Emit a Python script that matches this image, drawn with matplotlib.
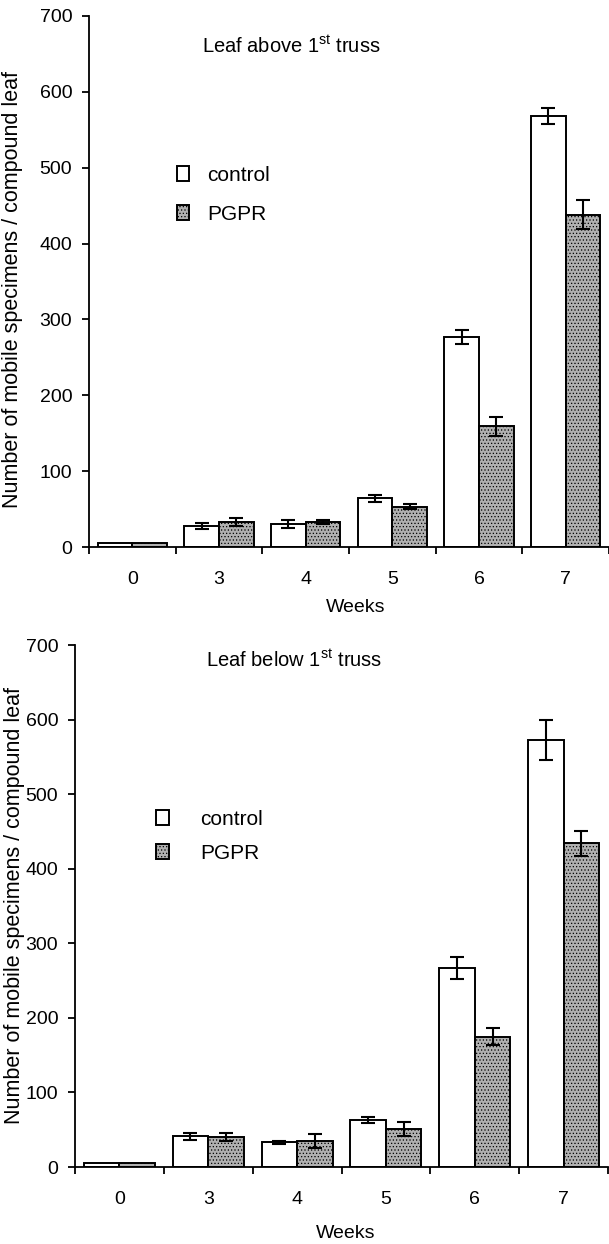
import matplotlib
matplotlib.use("Agg")
import matplotlib.pyplot as plt
import numpy as np

plt.rcParams['font.family'] = ['Liberation Sans', 'DejaVu Sans']
plt.rcParams['mathtext.fontset'] = 'custom'
plt.rcParams['mathtext.rm'] = 'Liberation Sans'
plt.rcParams['hatch.linewidth'] = 0.5

# donnees (pas de barre d'erreur visible a la semaine 0)
weeks = ['0', '3', '4', '5', '6', '7']

above_control = [5, 28, 30, 64, 277, 568]
above_control_err = [np.nan, 4, 5, 4.5, 9, 11]
above_pgpr = [5, 33, 33, 53, 159, 438]
above_pgpr_err = [np.nan, 5, 3, 3.5, 13, 19]

below_control = [5, 41, 33, 63, 267, 573]
below_control_err = [np.nan, 5, 1.5, 4.5, 15, 27]
below_pgpr = [5, 40, 35, 51, 175, 434]
below_pgpr_err = [np.nan, 5, 9, 9.5, 11, 17]

W, H = 609, 1244
fig = plt.figure(figsize=(W / 100, H / 100), dpi=100)


def px_axes(left, right, top, bottom):
    return fig.add_axes([left / W, 1 - bottom / H, (right - left) / W, (bottom - top) / H])


def draw_panel(ax, ctrl, ctrl_err, pg, pg_err, title, xmax, title_pos, leg_pos, textpad,
               spacing, ylab_pos, xlab_pos):
    x = np.arange(len(weeks))
    w = 0.4
    ek = dict(ecolor='black', elinewidth=1.5, capsize=5, capthick=1.5)
    ax.bar(x - w / 2, ctrl, w, yerr=ctrl_err, color='white', edgecolor='black',
           linewidth=1.4, label='control', error_kw=ek, zorder=2)
    ax.bar(x + w / 2, pg, w, yerr=pg_err, color='#b0b0b0', edgecolor='black',
           linewidth=1.4, hatch='.....', label='PGPR', error_kw=ek, zorder=2)

    ax.set_xlim(-0.5, xmax)
    ax.set_ylim(0, 700)
    ax.set_yticks(np.arange(0, 701, 100))
    ax.set_xticks(np.arange(-0.5, 6.0, 1.0))
    ax.set_xticklabels([])
    ax.set_xticks(x, minor=True)
    ax.set_xticklabels(weeks, minor=True)
    ax.tick_params(axis='x', which='major', direction='out', length=5, width=1.3)
    ax.tick_params(axis='x', which='minor', length=0, pad=17, labelsize=14)
    ax.tick_params(axis='y', direction='out', length=5, width=1.3, pad=7, labelsize=14)

    for s in ['top', 'right']:
        ax.spines[s].set_visible(False)
    for s in ['left', 'bottom']:
        ax.spines[s].set_linewidth(1.3)

    ax.set_ylabel('Number of mobile specimens / compound leaf', fontsize=15.5)
    ax.yaxis.set_label_coords(*ylab_pos)
    ax.set_xlabel('Weeks', fontsize=14)
    ax.xaxis.set_label_coords(*xlab_pos)

    ax.text(title_pos[0], title_pos[1], title, transform=ax.transAxes,
            fontsize=14.5, ha='left', va='center')

    ax.legend(loc='center left', bbox_to_anchor=leg_pos, frameon=False, fontsize=15,
              handlelength=0.6, handleheight=0.7, handletextpad=textpad,
              labelspacing=spacing, borderpad=0, borderaxespad=0)


ax1 = px_axes(89, 609, 16, 547)
draw_panel(ax1, above_control, above_control_err, above_pgpr, above_pgpr_err,
           r'Leaf above 1$^{\mathrm{st}}$ truss', 5.37, (0.217, 0.943),
           (0.169, 0.663), 0.85, 0.95, (-0.127, 0.485), (0.512, -0.098))

ax2 = px_axes(75, 608, 645, 1167)
draw_panel(ax2, below_control, below_control_err, below_pgpr, below_pgpr_err,
           r'Leaf below 1$^{\mathrm{st}}$ truss', 5.5, (0.246, 0.971),
           (0.152, 0.634), 1.5, 0.72, (-0.094, 0.5), (0.507, -0.111))

fig.savefig('out.png', dpi=100)
